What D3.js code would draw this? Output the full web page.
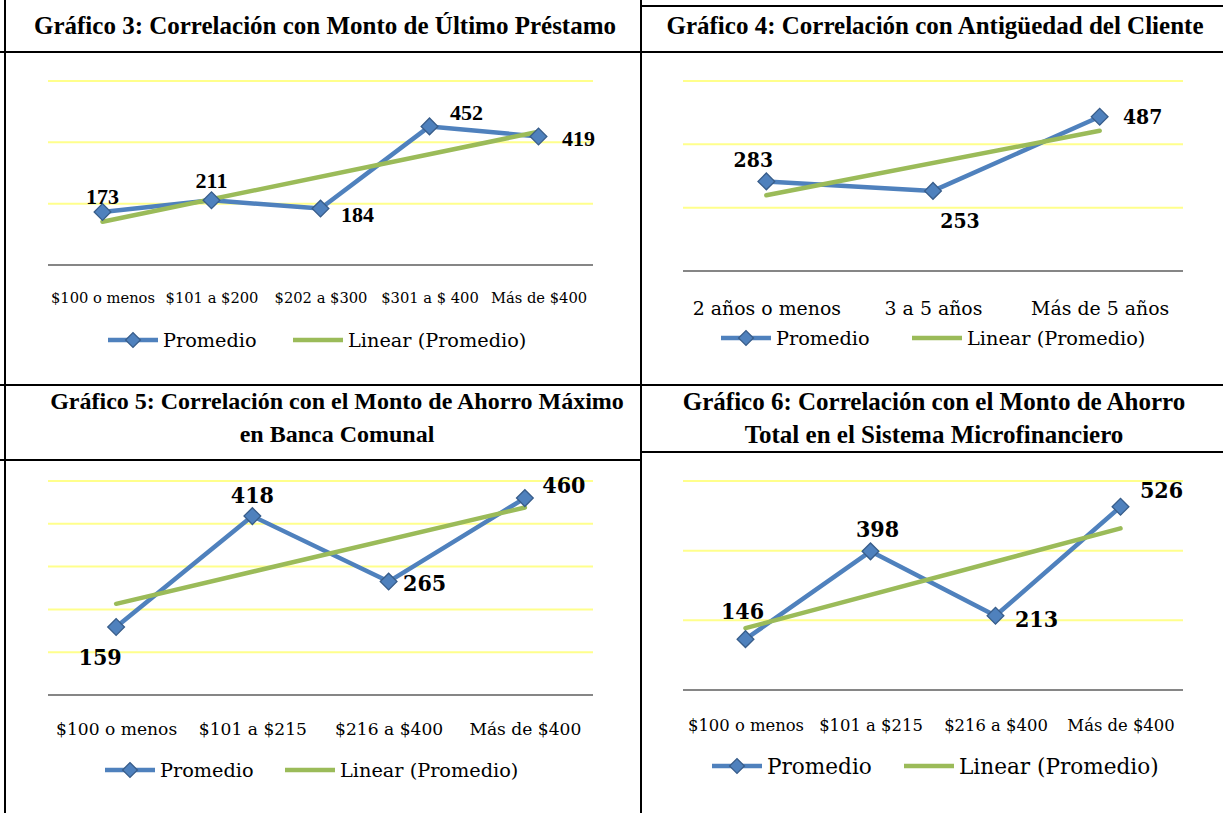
<!doctype html>
<html lang="es">
<head>
<meta charset="utf-8">
<title>Gráficos de correlación</title>
<style>
  body { margin: 0; background: #fff; }
  svg { display: block; }
  .cam { font-family: 'DejaVu Serif', serif; }
  .camb { font-family: 'DejaVu Serif Condensed', 'DejaVu Serif', serif; font-stretch: condensed; }
  .times { font-family: 'Liberation Serif', 'Times New Roman', serif; }
</style>
</head>
<body>
<svg id="page" width="1223" height="813"></svg>
<script src="https://cdn.jsdelivr.net/npm/d3@7"></script>
<script>
// ---- data ----
const title3 = ['Gráfico 3: Correlación con Monto de Último Préstamo']
const cats3 = ['$100 o menos', '$101 a $200', '$202 a $300', '$301 a $ 400', 'Más de $400']
const vals3 = [173, 211, 184, 452, 419]

const title4 = ['Gráfico 4: Correlación con Antigüedad del Cliente']
const cats4 = ['2 años o menos', '3 a 5 años', 'Más de 5 años']
const vals4 = [283, 253, 487]

const title5 = ['Gráfico 5: Correlación con el Monto de Ahorro Máximo', 'en Banca Comunal']
const cats5 = ['$100 o menos', '$101 a $215', '$216 a $400', 'Más de $400']
const vals5 = [159, 418, 265, 460]

const title6 = ['Gráfico 6: Correlación con el Monto de Ahorro', 'Total en el Sistema Microfinanciero']
const cats6 = ['$100 o menos', '$101 a $215', '$216 a $400', 'Más de $400']
const vals6 = [146, 398, 213, 526]

const legendLabels = ['Promedio', 'Linear (Promedio)']

const blue = '#4F81BD', blueDark = '#385D8A', green = '#9BBB59'
const gridColor = '#FFFF8C', axisColor = '#868686'

const panels = [
  { title: title3, titleX: 325, titleY: [25], titleSize: 25, cats: cats3, vals: vals3, yMax: 600, yStep: 200,
    x0: 48, x1: 593, yTop: 81, yBase: 265, tickY: 297, tickSize: 14.7,
    labelCls: 'times', labelSize: 22, offsets: [[0, -15], [0, -20], [37, 6], [37, -14], [40, 2]],
    legendY: 340, legendSize: 19.3, legendX: [108, 293] },
  { title: title4, titleX: 935, titleY: [25], titleSize: 25, cats: cats4, vals: vals4, yMax: 600, yStep: 200,
    x0: 683, x1: 1183, yTop: 81, yBase: 271, tickY: 308, tickSize: 18.9,
    labelCls: 'camb', labelSize: 21, offsets: [[-13, -22], [27, 30], [43, 0]],
    legendY: 338, legendSize: 19.3, legendX: [721, 912] },
  { title: title5, titleX: 337, titleY: [401, 434], titleSize: 24, cats: cats5, vals: vals5, yMax: 500, yStep: 100,
    x0: 48, x1: 593, yTop: 481, yBase: 695, tickY: 729, tickSize: 17.1,
    labelCls: 'camb', labelSize: 23, offsets: [[-16, 30], [0, -22], [36, 1], [39, -14]],
    legendY: 770, legendSize: 19.3, legendX: [105, 285] },
  { title: title6, titleX: 934, titleY: [401, 434], titleSize: 25, cats: cats6, vals: vals6, yMax: 600, yStep: 200,
    x0: 683, x1: 1183, yTop: 481, yBase: 690, tickY: 725, tickSize: 16.4,
    labelCls: 'camb', labelSize: 23, offsets: [[-3, -29], [7, -23], [41, 3], [41, -17]],
    legendY: 766, legendSize: 21.6, legendX: [712, 904] }
]

const svg = d3.select('#page')

// table borders
const rules = [
  [5, 0, 5, 813], [641, 0, 641, 813],
  [641, 6, 1223, 6], [0, 52, 1223, 52],
  [0, 385, 1223, 385], [0, 460, 641, 460], [641, 452, 1223, 452]
]
svg.append('g').selectAll('line').data(rules).join('line')
  .attr('x1', d => d[0]).attr('y1', d => d[1]).attr('x2', d => d[2]).attr('y2', d => d[3])
  .attr('stroke', '#000').attr('stroke-width', 2)

const diamond = size => d3.symbol().type(d3.symbolSquare).size(size)

panels.forEach(p => {
  const g = svg.append('g')

  // title
  g.selectAll('.title').data(p.title).join('text')
    .attr('class', 'times')
    .attr('x', p.titleX).attr('y', (d, i) => p.titleY[i])
    .attr('text-anchor', 'middle').attr('dominant-baseline', 'central')
    .attr('font-size', p.titleSize).attr('font-weight', 'bold')
    .text(d => d)

  const x = d3.scalePoint().domain(p.cats).range([p.x0, p.x1]).padding(0.5)
  const y = d3.scaleLinear().domain([0, p.yMax]).range([p.yBase, p.yTop])

  // gridlines
  g.selectAll('.grid').data(d3.range(p.yStep, p.yMax + 1, p.yStep)).join('line')
    .attr('x1', p.x0).attr('x2', p.x1)
    .attr('y1', d => y(d)).attr('y2', d => y(d))
    .attr('stroke', gridColor).attr('stroke-width', 2)

  // category axis
  const axis = g.append('g').attr('transform', `translate(0,${y(0)})`)
    .call(d3.axisBottom(x).tickSize(0).tickPadding(0))
  axis.select('.domain').attr('stroke', axisColor).attr('stroke-width', 2)
    .attr('d', `M${p.x0},0H${p.x1}`)
  axis.selectAll('text')
    .attr('class', 'cam').attr('font-size', p.tickSize).attr('fill', '#000')
    .attr('dy', null).attr('y', p.tickY - y(0)).attr('dominant-baseline', 'central')

  // data line
  const pts = p.cats.map((c, i) => ({ c, v: p.vals[i], i }))
  g.append('path').datum(pts)
    .attr('d', d3.line().x(d => x(d.c)).y(d => y(d.v)))
    .attr('fill', 'none').attr('stroke', blue).attr('stroke-width', 4.5)
    .attr('stroke-linejoin', 'round')

  // linear trendline (least squares over category index)
  const n = p.vals.length
  const xs = d3.range(1, n + 1)
  const mx = d3.mean(xs), my = d3.mean(p.vals)
  const slope = d3.sum(xs, (xi, i) => (xi - mx) * (p.vals[i] - my)) / d3.sum(xs, xi => (xi - mx) ** 2)
  const trend = pts.map(d => ({ c: d.c, v: my + slope * (d.i + 1 - mx) }))
  g.append('path').datum([trend[0], trend[n - 1]])
    .attr('d', d3.line().x(d => x(d.c)).y(d => y(d.v)))
    .attr('fill', 'none').attr('stroke', green).attr('stroke-width', 4.5)
    .attr('stroke-linecap', 'round')

  // markers
  g.selectAll('.mk').data(pts).join('path')
    .attr('d', diamond(140))
    .attr('transform', d => `translate(${x(d.c)},${y(d.v)}) rotate(45)`)
    .attr('fill', blue).attr('stroke', blueDark).attr('stroke-width', 1.3)

  // data labels
  g.selectAll('.lbl').data(pts).join('text')
    .attr('class', p.labelCls)
    .attr('x', d => x(d.c) + p.offsets[d.i][0])
    .attr('y', d => y(d.v) + p.offsets[d.i][1])
    .attr('text-anchor', 'middle').attr('dominant-baseline', 'central')
    .attr('font-size', p.labelSize).attr('font-weight', 'bold')
    .text(d => d.v)

  // legend
  const lg = g.append('g').attr('class', 'cam').attr('font-size', p.legendSize)
  legendLabels.forEach((lab, i) => {
    const lx = p.legendX[i]
    lg.append('line')
      .attr('x1', lx).attr('x2', lx + 50).attr('y1', p.legendY).attr('y2', p.legendY)
      .attr('stroke', i === 0 ? blue : green).attr('stroke-width', 4.5)
    if (i === 0) {
      lg.append('path').attr('d', diamond(110))
        .attr('transform', `translate(${lx + 25},${p.legendY}) rotate(45)`)
        .attr('fill', blue).attr('stroke', blueDark).attr('stroke-width', 1.3)
    }
    lg.append('text')
      .attr('x', lx + 55).attr('y', p.legendY)
      .attr('dominant-baseline', 'central')
      .text(lab)
  })
})
</script>
</body>
</html>
